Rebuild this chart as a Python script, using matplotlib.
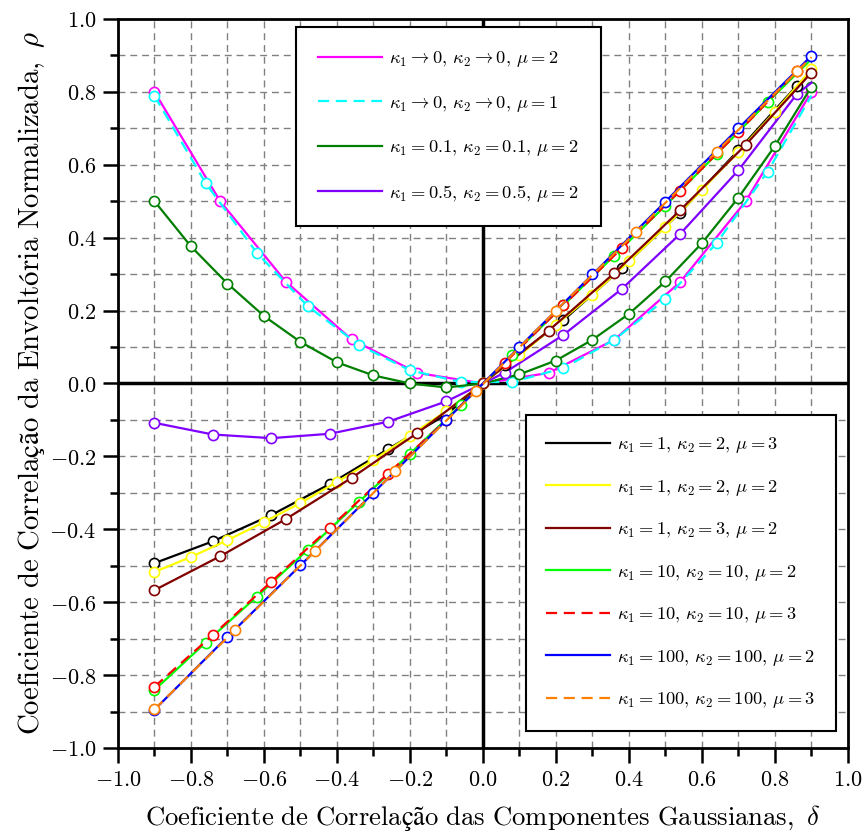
import numpy as np
import matplotlib.pyplot as plt
from matplotlib.ticker import MultipleLocator

plt.rcParams['mathtext.fontset'] = 'cm'
plt.rcParams['font.family'] = ['DejaVu Serif']
plt.rcParams['axes.formatter.use_mathtext'] = True

# kappa1 -> 0, kappa2 -> 0, mu = 2
mag_x = [-0.9, -0.72, -0.54, -0.36, -0.18, 0.0, 0.18, 0.36, 0.54, 0.72, 0.9]
mag_y = [0.800, 0.500, 0.279, 0.121, 0.029, 0.0, 0.029, 0.120, 0.278, 0.500, 0.800]
# kappa1 -> 0, kappa2 -> 0, mu = 1
cya_x = [-0.9, -0.76, -0.62, -0.48, -0.34, -0.2, -0.06, 0.08, 0.22, 0.36, 0.5, 0.64, 0.78, 0.9]
cya_y = [0.789, 0.550, 0.359, 0.212, 0.106, 0.036, 0.004, 0.004, 0.042, 0.120, 0.231, 0.385, 0.581, 0.790]
# kappa1 = 0.1, kappa2 = 0.1, mu = 2
grn_x = [-0.9, -0.8, -0.7, -0.6, -0.5, -0.4, -0.3, -0.2, -0.1, 0.0,
         0.1, 0.2, 0.3, 0.4, 0.5, 0.6, 0.7, 0.8, 0.9]
grn_y = [0.500, 0.376, 0.274, 0.185, 0.114, 0.058, 0.022, 0.000, -0.011, 0.0,
         0.025, 0.063, 0.120, 0.191, 0.280, 0.385, 0.510, 0.652, 0.814]
# kappa1 = 0.5, kappa2 = 0.5, mu = 2
pur_x = [-0.9, -0.74, -0.58, -0.42, -0.26, -0.1, 0.0, 0.06, 0.22, 0.38, 0.54, 0.70, 0.86, 0.9]
pur_y = [-0.108, -0.140, -0.150, -0.138, -0.105, -0.049, 0.0, 0.030, 0.133, 0.259, 0.410, 0.585, 0.794, 0.825]
# kappa1 = 1, kappa2 = 2, mu = 3
blk_x = [-0.9, -0.74, -0.58, -0.42, -0.26, -0.1, 0.0, 0.06, 0.22, 0.38, 0.54, 0.70, 0.86, 0.9]
blk_y = [-0.493, -0.433, -0.361, -0.276, -0.180, -0.085, 0.0, 0.052, 0.173, 0.316, 0.469, 0.640, 0.817, 0.855]
# kappa1 = 1, kappa2 = 2, mu = 2
yel_x = grn_x
yel_y = [-0.517, -0.476, -0.430, -0.380, -0.328, -0.270, -0.210, -0.143, -0.075, 0.0,
         0.077, 0.161, 0.244, 0.335, 0.430, 0.531, 0.636, 0.746, 0.862]
# kappa1 = 1, kappa2 = 3, mu = 2
brn_x = mag_x
brn_y = [-0.567, -0.474, -0.372, -0.259, -0.136, 0.0, 0.145, 0.303, 0.475, 0.655, 0.853]
# kappa1 = 10, kappa2 = 10, mu = 2
lim_x = cya_x
lim_y = [-0.841, -0.711, -0.585, -0.456, -0.325, -0.193, -0.059, 0.077, 0.214, 0.351, 0.488, 0.629, 0.772, 0.890]
# kappa1 = 10, kappa2 = 10, mu = 3
red_x = blk_x
red_y = [-0.832, -0.690, -0.544, -0.396, -0.247, -0.100, 0.0, 0.057, 0.214, 0.371, 0.529, 0.690, 0.856, 0.895]
# kappa1 = 100, kappa2 = 100, mu = 2
blu_x = [-0.9, -0.7, -0.5, -0.3, -0.1, 0.1, 0.3, 0.5, 0.7, 0.9]
blu_y = [-0.895, -0.695, -0.499, -0.300, -0.100, 0.100, 0.299, 0.499, 0.700, 0.899]
# kappa1 = 100, kappa2 = 100, mu = 3
ora_x = [-0.9, -0.68, -0.46, -0.24, -0.02, 0.2, 0.42, 0.64, 0.86, 0.9]
ora_y = [-0.894, -0.677, -0.460, -0.240, -0.022, 0.200, 0.416, 0.636, 0.856, 0.895]

labels = [
    r'$\kappa_{1} \rightarrow 0,\, \kappa_{2} \rightarrow 0,\, \mu = 2$',
    r'$\kappa_{1} \rightarrow 0,\, \kappa_{2} \rightarrow 0,\, \mu = 1$',
    r'$\kappa_{1} = 0.1,\, \kappa_{2} = 0.1,\, \mu = 2$',
    r'$\kappa_{1} = 0.5,\, \kappa_{2} = 0.5,\, \mu = 2$',
    r'$\kappa_{1} = 1,\, \kappa_{2} = 2,\, \mu = 3$',
    r'$\kappa_{1} = 1,\, \kappa_{2} = 2,\, \mu = 2$',
    r'$\kappa_{1} = 1,\, \kappa_{2} = 3,\, \mu = 2$',
    r'$\kappa_{1} = 10,\, \kappa_{2} = 10,\, \mu = 2$',
    r'$\kappa_{1} = 10,\, \kappa_{2} = 10,\, \mu = 3$',
    r'$\kappa_{1} = 100,\, \kappa_{2} = 100,\, \mu = 2$',
    r'$\kappa_{1} = 100,\, \kappa_{2} = 100,\, \mu = 3$',
]

# (x, y, colour, dashed, indices without marker)
series = [
    (mag_x, mag_y, '#ff00ff', False, []),
    (cya_x, cya_y, '#00ffff', True, [13]),
    (grn_x, grn_y, '#007f00', False, []),
    (pur_x, pur_y, '#8000ff', False, [6, 13]),
    (blk_x, blk_y, '#000000', False, [6, 13]),
    (yel_x, yel_y, '#ffff00', False, []),
    (brn_x, brn_y, '#800000', False, []),
    (lim_x, lim_y, '#00ff00', False, [13]),
    (red_x, red_y, '#ff0000', True, [6, 13]),
    (blu_x, blu_y, '#0000ff', False, []),
    (ora_x, ora_y, '#ff8000', True, [9]),
]

fig = plt.figure(figsize=(8.65, 8.36), dpi=100)
ax = fig.add_axes([0.1364, 0.1053, 0.8439, 0.872])

handles = []
for (x, y, c, dashed, skip), lab in zip(series, labels):
    x = np.asarray(x)
    y = np.asarray(y)
    ls = (0, (5, 3)) if dashed else '-'
    h, = ax.plot(x, y, color=c, lw=1.6, ls=ls, label=lab, zorder=3)
    keep = [i for i in range(len(x)) if i not in skip]
    ax.plot(x[keep], y[keep], 'o', ms=7.3, mfc='white', mec=c, mew=1.2, zorder=3)
    handles.append(h)

ax.axhline(0, color='black', lw=2.5, zorder=2)
ax.axvline(0, color='black', lw=2.5, zorder=2)

ax.set_xlim(-1, 1)
ax.set_ylim(-1, 1)
ax.xaxis.set_major_locator(MultipleLocator(0.2))
ax.xaxis.set_minor_locator(MultipleLocator(0.1))
ax.yaxis.set_major_locator(MultipleLocator(0.2))
ax.yaxis.set_minor_locator(MultipleLocator(0.1))
ax.xaxis.set_major_formatter(lambda v, p: r'$%.1f$' % v)
ax.yaxis.set_major_formatter(lambda v, p: r'$%.1f$' % v)
ax.tick_params(which='major', direction='out', length=10.5, width=1.8, labelsize=16, pad=5)
ax.tick_params(which='minor', direction='out', length=5.5, width=1.8)
ax.grid(True, which='both', ls=(0, (5, 3.5)), color='#808080', lw=1.0, zorder=1)
for s in ax.spines.values():
    s.set_linewidth(2)

ax.set_xlabel(r'$\mathrm{Coeficiente\ de\ Correlação\ das\ Componentes\ Gaussianas,}\ \delta$',
              fontsize=19.2, labelpad=8)
ax.set_ylabel(r'$\mathrm{Coeficiente\ de\ Correlação\ da\ Envoltória\ Normalizada,}\ \rho$',
              fontsize=20.8, labelpad=2)

leg_kw = dict(loc='upper left', borderaxespad=0, fontsize=13.3, handlelength=3.45,
              handletextpad=0.4, fancybox=False, framealpha=1, edgecolor='black')
leg1 = ax.legend(handles=handles[:4], bbox_to_anchor=(0.244, 0.989),
                 labelspacing=1.33, borderpad=1.2, **leg_kw)
leg1.get_frame().set_linewidth(1.5)
ax.add_artist(leg1)
leg2 = ax.legend(handles=handles[4:], bbox_to_anchor=(0.559, 0.457),
                 labelspacing=1.22, borderpad=1.1, **leg_kw)
leg2.get_frame().set_linewidth(1.5)

fig.savefig('out.png', dpi=100)
